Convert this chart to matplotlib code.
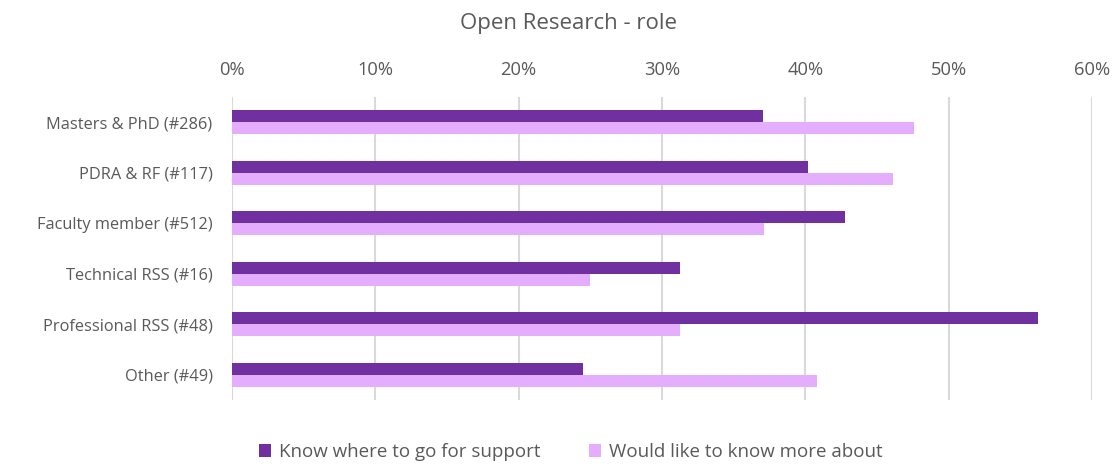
import matplotlib
matplotlib.use("Agg")
import matplotlib.pyplot as plt
import numpy as np
from matplotlib.ticker import PercentFormatter

plt.rcParams['font.family'] = ['Open Sans', 'DejaVu Sans']

categories = ["Masters & PhD (#286)", "PDRA & RF (#117)", "Faculty member (#512)",
              "Technical RSS (#16)", "Professional RSS (#48)", "Other (#49)"]
know_support = [37.06, 40.17, 42.77, 31.25, 56.25, 24.49]
know_more = [47.55, 46.15, 37.11, 25.00, 31.25, 40.82]
series_names = ["Know where to go for support", "Would like to know more about"]
x_ticks = [0, 10, 20, 30, 40, 50, 60]

dark = "#7030A0"
light = "#E4ADFD"
text_col = "#595959"
grid_col = "#D9D9D9"

fig = plt.figure(figsize=(11.19, 4.67), dpi=100)
ax = fig.add_axes([232 / 1119, 1 - 400 / 467, 860 / 1119, 303 / 467])

y = np.arange(len(categories))
h = 0.235
ax.barh(y - h / 2, know_support, height=h, color=dark, label=series_names[0], zorder=3)
ax.barh(y + h / 2, know_more, height=h, color=light, label=series_names[1], zorder=3)

ax.set_ylim(len(categories) - 0.5, -0.5)
ax.set_yticks(y)
ax.set_yticklabels(categories, fontsize=11.8, color=text_col)
ax.set_xlim(0, 60)
ax.set_xticks(x_ticks)
ax.xaxis.set_major_formatter(PercentFormatter(decimals=0))
ax.xaxis.tick_top()
ax.tick_params(axis='x', labelsize=13.2, labelcolor=text_col, length=0, pad=13)
ax.tick_params(axis='y', length=0, pad=14)
ax.grid(axis='x', color=grid_col, linewidth=1.5, zorder=0)
for s in ax.spines.values():
    s.set_visible(False)

fig.text(0.508, 1 - 23 / 467, "Open Research - role", ha='center', va='center',
         fontsize=16, color=text_col)

leg = fig.legend(loc='center', bbox_to_anchor=(0.51, 1 - 452 / 467), ncol=2,
                 frameon=False, fontsize=13.5, handlelength=0.65, handleheight=0.65,
                 handletextpad=0.4, columnspacing=2.6)
for t in leg.get_texts():
    t.set_color(text_col)

fig.savefig("out.png", dpi=100)
